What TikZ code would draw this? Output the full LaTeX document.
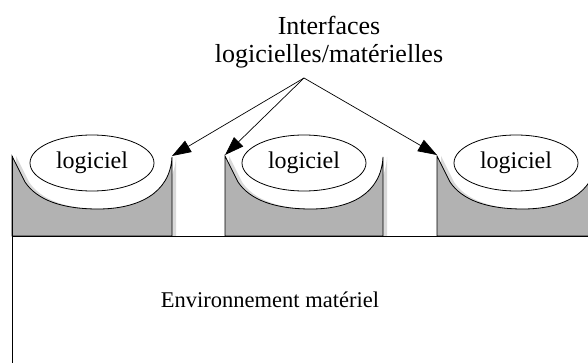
\documentclass[tikz,border=0pt]{standalone}
\usepackage{fontspec}
\setmainfont{Liberation Serif}
\usepackage{tikz}
\usetikzlibrary{arrows.meta,positioning,shapes.geometric}

\tikzset{
  blocfill/.style={fill=black!30,draw=black,line width=0.8pt},
  blocshadow/.style={fill=black!15},
  bulle/.style={ellipse,draw,fill=white,line width=0.8pt,minimum width=124pt,minimum height=56pt,inner sep=0pt},
  fleche/.style={-{Triangle[length=19pt,width=13pt]},line width=0.7pt},
  grostexte/.style={font=\fontsize{24}{28}\selectfont}
}

\begin{document}
\begin{tikzpicture}[x=1pt,y=-1pt]
\clip (0,0) rectangle (588,363);
\path[use as bounding box] (0,0) rectangle (588,363);
%%the three software blocks, with their light shadow first
\foreach \L/\R in {12/172, 225/383, 437/597}{
  \fill[blocshadow,xshift=4pt] (\L,156) -- (\L+13,182)
    .. controls (\L+25,200) and (\L+50,209) .. (\L+86,209)
    .. controls (\L+125,209) and (\R-2,194) .. (\R,157) -- (\R,236) -- (\L,236) -- cycle;
  \draw[blocfill] (\L,156) -- (\L+13,182)
    .. controls (\L+25,200) and (\L+50,209) .. (\L+86,209)
    .. controls (\L+125,209) and (\R-2,194) .. (\R,157) -- (\R,236) -- (\L,236) -- cycle;
}
%%Now for the hardware environment
\draw[line width=0.8pt] (12,156) -- (12,363);
\draw[line width=0.8pt] (12,236) -- (588,236);
%%the ellipses
\node[bulle,grostexte] (log1) at (92,163) {logiciel};
\node[bulle,grostexte] (log2) at (304,163) {logiciel};
\node[bulle,grostexte] (log3) at (516,163) {logiciel};
%%finally the text and the arrows
\node[align=center,font=\fontsize{26}{28}\selectfont] (itf) at (329,42) {Interfaces\\logicielles/matérielles};
\node[font=\fontsize{22.5}{27}\selectfont] (env) at (270,300) {Environnement matériel};
\path (304,78) coordinate (src)
      (172,156) coordinate (b1r)
      (225,155) coordinate (b2l)
      (437,155) coordinate (b3l);
\draw[fleche] (src) -- (b1r);
\draw[fleche] (src) -- (b2l);
\draw[fleche] (src) -- (b3l);
\end{tikzpicture}
\end{document}
